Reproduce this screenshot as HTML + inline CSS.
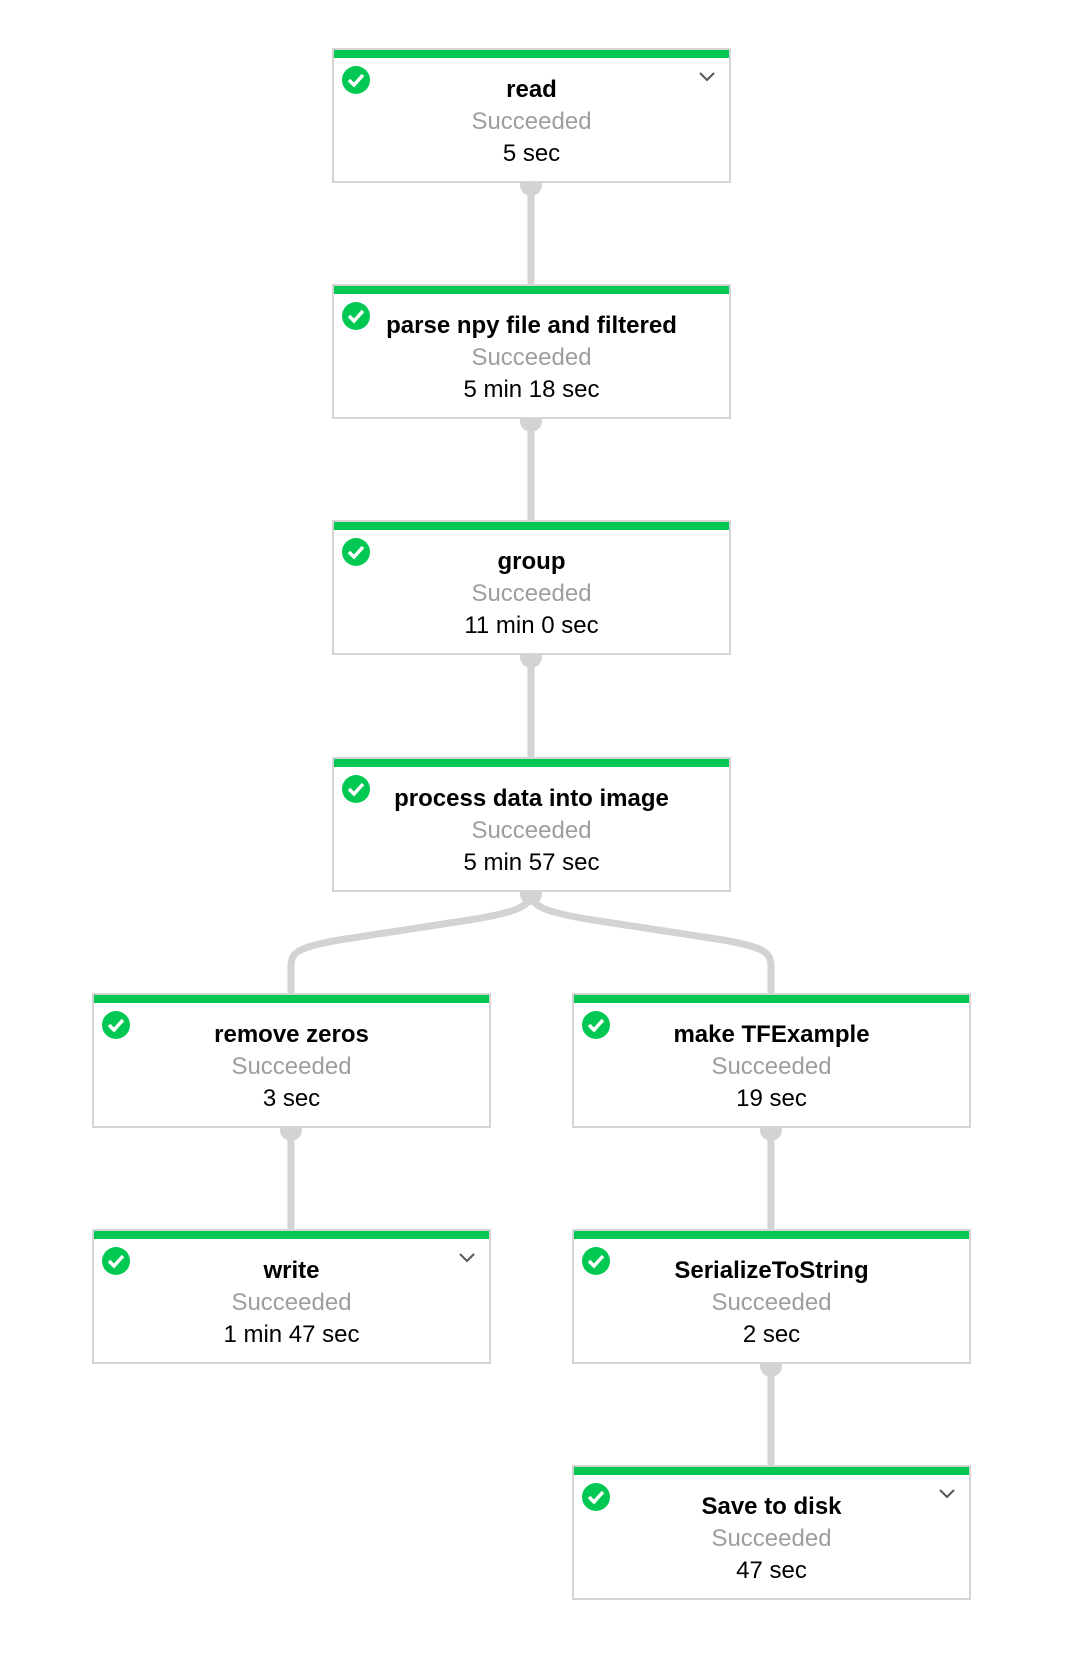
<!DOCTYPE html>
<html><head><meta charset="utf-8"><style>
body{margin:0;width:1082px;height:1674px;background:#fff;position:relative;font-family:"Liberation Sans",sans-serif;overflow:hidden}
.n{position:absolute;width:395px;height:131px;border:2px solid #d4d4d4;background:#fff;box-sizing:content-box}
.n .bar{position:absolute;left:0;right:0;top:0;height:8px;background:#00c853}
.n .ic{position:absolute;left:8px;top:16px}
.n .t{position:absolute;left:0;right:0;text-align:center;font-size:24px;line-height:30px}
.t1{top:25px;font-weight:bold;color:#000}
.t2{top:57px;color:#9e9e9e}
.t3{top:89px;color:#000}
.ch{position:absolute;right:14px;top:22px}
</style></head><body>
<svg width="1082" height="1674" style="position:absolute;left:0;top:0">
<g stroke="#d3d3d3" stroke-width="7" fill="none">
<line x1="531" y1="183" x2="531" y2="284"/>
<line x1="531" y1="419" x2="531" y2="520"/>
<line x1="531" y1="655" x2="531" y2="757"/>
<path d="M531 892 C531 906 519 912 469 920 L339 940 C299 947 291 952 291 966 L291 993"/>
<path d="M531 892 C531 906 543 912 593 920 L723 940 C763 947 771 952 771 966 L771 993"/>
<line x1="291" y1="1128" x2="291" y2="1229"/>
<line x1="771" y1="1128" x2="771" y2="1229"/>
<line x1="771" y1="1364" x2="771" y2="1465"/>
</g>
<g fill="#d3d3d3">
<circle cx="531" cy="185" r="11"/><circle cx="531" cy="421" r="11"/><circle cx="531" cy="657" r="11"/><circle cx="531" cy="894" r="11"/>
<circle cx="291" cy="1130" r="11"/><circle cx="771" cy="1130" r="11"/><circle cx="771" cy="1366" r="11"/>
</g>
</svg>

<div class="n" style="left:332px;top:48px"><div class="bar"></div><svg class="ic" width="28" height="28"><circle cx="14" cy="14" r="14" fill="#00c853"/><path d="M7 14 l5 5 l9-10" stroke="#fff" stroke-width="3.5" fill="none"/></svg><svg class="ch" width="16" height="10"><path d="M1 1 l7 7 l7-7" stroke="#555" stroke-width="2" fill="none"/></svg><div class="t t1">read</div><div class="t t2">Succeeded</div><div class="t t3">5 sec</div></div>

<div class="n" style="left:332px;top:284px"><div class="bar"></div><svg class="ic" width="28" height="28"><circle cx="14" cy="14" r="14" fill="#00c853"/><path d="M7 14 l5 5 l9-10" stroke="#fff" stroke-width="3.5" fill="none"/></svg><div class="t t1">parse npy file and filtered</div><div class="t t2">Succeeded</div><div class="t t3">5 min 18 sec</div></div>

<div class="n" style="left:332px;top:520px"><div class="bar"></div><svg class="ic" width="28" height="28"><circle cx="14" cy="14" r="14" fill="#00c853"/><path d="M7 14 l5 5 l9-10" stroke="#fff" stroke-width="3.5" fill="none"/></svg><div class="t t1">group</div><div class="t t2">Succeeded</div><div class="t t3">11 min 0 sec</div></div>

<div class="n" style="left:332px;top:757px"><div class="bar"></div><svg class="ic" width="28" height="28"><circle cx="14" cy="14" r="14" fill="#00c853"/><path d="M7 14 l5 5 l9-10" stroke="#fff" stroke-width="3.5" fill="none"/></svg><div class="t t1">process data into image</div><div class="t t2">Succeeded</div><div class="t t3">5 min 57 sec</div></div>

<div class="n" style="left:92px;top:993px"><div class="bar"></div><svg class="ic" width="28" height="28"><circle cx="14" cy="14" r="14" fill="#00c853"/><path d="M7 14 l5 5 l9-10" stroke="#fff" stroke-width="3.5" fill="none"/></svg><div class="t t1">remove zeros</div><div class="t t2">Succeeded</div><div class="t t3">3 sec</div></div>

<div class="n" style="left:572px;top:993px"><div class="bar"></div><svg class="ic" width="28" height="28"><circle cx="14" cy="14" r="14" fill="#00c853"/><path d="M7 14 l5 5 l9-10" stroke="#fff" stroke-width="3.5" fill="none"/></svg><div class="t t1">make TFExample</div><div class="t t2">Succeeded</div><div class="t t3">19 sec</div></div>

<div class="n" style="left:92px;top:1229px"><div class="bar"></div><svg class="ic" width="28" height="28"><circle cx="14" cy="14" r="14" fill="#00c853"/><path d="M7 14 l5 5 l9-10" stroke="#fff" stroke-width="3.5" fill="none"/></svg><svg class="ch" width="16" height="10"><path d="M1 1 l7 7 l7-7" stroke="#555" stroke-width="2" fill="none"/></svg><div class="t t1">write</div><div class="t t2">Succeeded</div><div class="t t3">1 min 47 sec</div></div>

<div class="n" style="left:572px;top:1229px"><div class="bar"></div><svg class="ic" width="28" height="28"><circle cx="14" cy="14" r="14" fill="#00c853"/><path d="M7 14 l5 5 l9-10" stroke="#fff" stroke-width="3.5" fill="none"/></svg><div class="t t1">SerializeToString</div><div class="t t2">Succeeded</div><div class="t t3">2 sec</div></div>

<div class="n" style="left:572px;top:1465px"><div class="bar"></div><svg class="ic" width="28" height="28"><circle cx="14" cy="14" r="14" fill="#00c853"/><path d="M7 14 l5 5 l9-10" stroke="#fff" stroke-width="3.5" fill="none"/></svg><svg class="ch" width="16" height="10"><path d="M1 1 l7 7 l7-7" stroke="#555" stroke-width="2" fill="none"/></svg><div class="t t1">Save to disk</div><div class="t t2">Succeeded</div><div class="t t3">47 sec</div></div>
</body></html>
